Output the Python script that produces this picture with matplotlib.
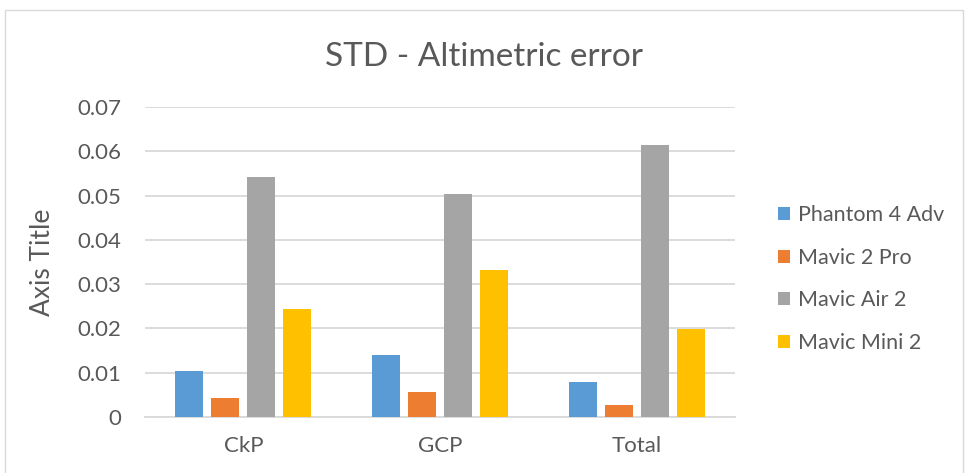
import numpy as np
import matplotlib.pyplot as plt
from matplotlib.patches import Rectangle

# Datos
categorias = ['CkP', 'GCP', 'Total']
series = ['Phantom 4 Adv', 'Mavic 2 Pro', 'Mavic Air 2', 'Mavic Mini 2']
phantom_4_adv = [0.0103, 0.0141, 0.0080]
mavic_2_pro = [0.0043, 0.0056, 0.0026]
mavic_air_2 = [0.0541, 0.0503, 0.0614]
mavic_mini_2 = [0.0243, 0.0332, 0.0198]
valores = [phantom_4_adv, mavic_2_pro, mavic_air_2, mavic_mini_2]
colores = ['#5B9BD5', '#ED7D31', '#A5A5A5', '#FFC000']
y_ticks = [0, 0.01, 0.02, 0.03, 0.04, 0.05, 0.06, 0.07]

plt.rcParams['font.family'] = ['Lato', 'DejaVu Sans']
texto = '#595959'

fig = plt.figure(figsize=(9.68, 4.73), dpi=100)
# borde del area del grafico
fig.patches.append(Rectangle((5 / 968, -0.05), 958 / 968, 1.05 - 10 / 473,
                             transform=fig.transFigure, fill=False,
                             edgecolor='#D9D9D9', linewidth=1))

ax = fig.add_axes([145 / 968, 56 / 473, 590 / 968, 310 / 473])
x = np.arange(len(categorias))
paso = 0.183
ancho = 0.142
for i, (nombre, vals, c) in enumerate(zip(series, valores, colores)):
    ax.bar(x + (i - 1.5) * paso, vals, width=ancho, color=c, label=nombre, zorder=3)

ax.set_xlim(-0.5, 2.5)
ax.set_ylim(0, 0.07)
ax.set_yticks(y_ticks)
ax.set_yticklabels(['0' if v == 0 else f'{v:.2f}' for v in y_ticks])
ax.set_xticks(x)
ax.set_xticklabels(categorias)
ax.yaxis.grid(True, color='#D9D9D9', linewidth=1.3, zorder=0)
for s in ['top', 'right', 'left']:
    ax.spines[s].set_visible(False)
ax.spines['bottom'].set_color('#D9D9D9')
ax.spines['bottom'].set_linewidth(1.3)
ax.tick_params(axis='both', length=0, labelsize=16, labelcolor=texto)
ax.tick_params(axis='y', pad=17)
ax.tick_params(axis='x', pad=14)
ax.set_ylabel('Axis Title', fontsize=19, color=texto, labelpad=16)

fig.text(0.5, 0.88, 'STD - Altimetric error', ha='center', va='center',
         fontsize=24, color=texto)

ax.legend(loc='center left', bbox_to_anchor=(1.04, 0.445), frameon=False,
          fontsize=15.5, labelcolor=texto, handlelength=0.55, handleheight=0.55,
          handletextpad=0.4, labelspacing=1.05)

fig.savefig('out.png', dpi=100)
